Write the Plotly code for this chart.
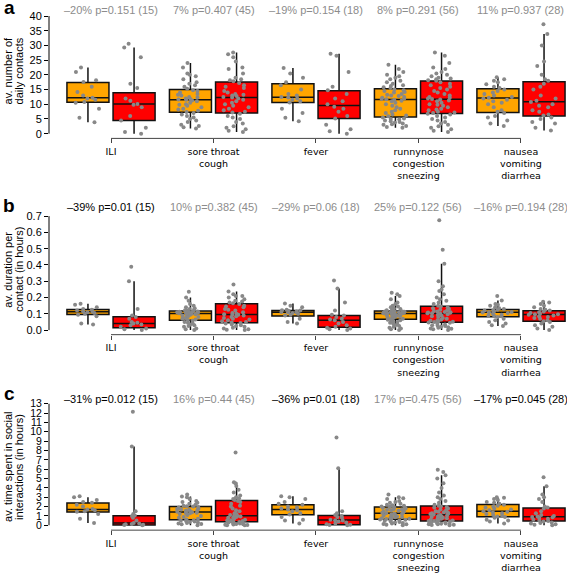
import plotly.graph_objects as go

# ---------------- categories / text ----------------
groups = ["ILI", "sore throat<br>cough", "fever",
          "runnynose<br>congestion<br>sneezing", "nausea<br>vomiting<br>diarrhea"]
group_pos = [1, 2, 3, 4, 5]

contacts_labels = ["–20% p=0.151 (15)", "7% p=0.407 (45)", "–19% p=0.154 (18)",
                   "8% p=0.291 (56)", "11% p=0.937 (28)"]
contacts_sig = [False, False, False, False, False]
duration_labels = ["–39% p=0.01 (15)", "10% p=0.382 (45)", "–29% p=0.06 (18)",
                   "25% p=0.122 (56)", "–16% p=0.194 (28)"]
duration_sig = [True, False, False, False, False]
time_labels = ["–31% p=0.012 (15)", "16% p=0.44 (45)", "–36% p=0.01 (18)",
               "17% p=0.475 (56)", "–17% p=0.045 (28)"]
time_sig = [True, False, True, False, True]

# ---------------- box statistics (h = healthy / orange, s = sick / red) ----------------
contacts_h_lo = [3.9, 1.8, 4.2, 2.0, 2.6]
contacts_h_q1 = [10.7, 7.3, 10.6, 5.7, 7.2]
contacts_h_med = [12.2, 11.5, 12.4, 11.6, 12.1]
contacts_h_q3 = [17.4, 15.0, 17.0, 15.3, 15.3]
contacts_h_hi = [22.5, 24.0, 22.3, 23.4, 19.2]
contacts_s_lo = [0.0, 0.6, 0.0, 0.6, 1.1]
contacts_s_q1 = [4.5, 7.0, 5.2, 6.9, 6.0]
contacts_s_med = [10.1, 12.3, 9.6, 11.7, 10.9]
contacts_s_q3 = [13.9, 17.6, 14.6, 17.9, 17.7]
contacts_s_hi = [29.3, 27.6, 27.2, 27.6, 33.9]

duration_h_lo = [0.035, 0.0, 0.040, 0.0, 0.025]
duration_h_q1 = [0.096, 0.061, 0.086, 0.066, 0.082]
duration_h_med = [0.113, 0.102, 0.110, 0.102, 0.109]
duration_h_q3 = [0.127, 0.117, 0.120, 0.117, 0.127]
duration_h_hi = [0.162, 0.200, 0.163, 0.209, 0.182]
duration_s_lo = [0.0, 0.0, 0.0, 0.0, 0.0]
duration_s_q1 = [0.015, 0.045, 0.018, 0.049, 0.055]
duration_s_med = [0.041, 0.096, 0.060, 0.102, 0.096]
duration_s_q3 = [0.082, 0.162, 0.090, 0.147, 0.119]
duration_s_hi = [0.300, 0.237, 0.256, 0.407, 0.174]

time_h_lo = [0.25, 0.0, 0.2, 0.0, 0.2]
time_h_q1 = [1.42, 0.60, 1.14, 0.64, 0.92]
time_h_med = [1.70, 1.42, 1.70, 1.28, 1.49]
time_h_q3 = [2.38, 2.02, 2.20, 1.95, 2.23]
time_h_hi = [3.0, 3.08, 3.1, 3.0, 2.94]
time_s_lo = [0.0, 0.0, 0.0, 0.0, 0.0]
time_s_q1 = [0.04, 0.39, 0.07, 0.46, 0.46]
time_s_med = [0.25, 1.03, 0.57, 1.14, 0.92]
time_s_q3 = [1.03, 2.66, 1.06, 2.06, 1.85]
time_s_hi = [8.43, 4.6, 6.1, 5.35, 4.18]

# ---------------- individual participants ----------------
contacts_h_pts = [
    [22.5, 21.0, 18.2, 17.6, 16.0, 14.2, 13.0, 12.2, 12.0, 11.5, 10.8, 10.5, 8.5, 5.4, 3.9],
    [24.0, 22.5, 20.5, 20.0, 19.5, 18.5, 17.5, 17.0, 16.5, 16.0, 15.3,
     14.8, 14.5, 14.0, 13.5, 13.2, 13.0, 12.5, 12.3, 12.0, 11.8, 11.6, 11.5,
     11.3, 11.0, 10.5, 10.0, 9.8, 9.5, 9.0, 8.5, 8.2, 7.8, 7.4,
     7.0, 6.5, 6.0, 5.5, 5.0, 4.5, 4.0, 3.0, 2.6, 2.2, 1.8],
    [22.3, 20.5, 19.0, 17.5, 16.5, 15.0, 13.5, 13.0, 12.5, 12.3, 12.0, 11.5, 11.0, 10.6, 8.5, 7.0, 5.4, 4.2],
    [23.4, 22.0, 21.0, 20.0, 19.5, 19.0, 18.5, 18.0, 17.5, 17.0, 16.5, 16.2, 15.8, 15.5,
     15.0, 14.8, 14.5, 14.2, 14.0, 13.5, 13.2, 13.0, 12.8, 12.5, 12.2, 12.0, 11.8, 11.7,
     11.5, 11.2, 11.0, 10.5, 10.0, 9.5, 9.0, 8.5, 8.0, 7.5, 7.0, 6.5, 6.2, 5.9,
     5.5, 5.2, 5.0, 4.8, 4.5, 4.2, 4.0, 3.8, 3.5, 3.2, 3.0, 2.6, 2.3, 2.0],
    [19.2, 18.5, 18.0, 17.5, 16.8, 16.0, 15.5, 15.0, 14.5, 14.0, 13.5, 13.0, 12.5, 12.2,
     12.0, 11.5, 11.0, 10.5, 10.0, 9.0, 8.0, 7.5, 7.0, 6.0, 5.5, 4.5, 3.5, 2.6],
]
contacts_s_pts = [
    [30.6, 29.3, 26.0, 17.0, 15.5, 12.0, 11.2, 10.1, 9.8, 9.0, 6.0, 4.5, 2.0, 0.6, 0.0],
    [27.6, 27.0, 26.0, 24.5, 22.5, 22.0, 20.5, 19.0, 18.5, 18.2, 17.8,
     17.2, 16.5, 16.0, 15.5, 14.5, 14.0, 13.5, 13.2, 13.0, 12.8, 12.5, 12.3,
     12.0, 11.5, 11.0, 10.5, 10.0, 9.5, 9.0, 8.5, 8.0, 7.5, 7.2,
     6.8, 6.0, 5.5, 5.0, 4.0, 3.5, 2.5, 2.0, 1.5, 1.0, 0.6],
    [27.2, 26.5, 21.0, 16.0, 14.8, 13.5, 12.0, 11.0, 10.0, 9.2, 8.5, 7.5, 6.0, 5.2, 3.0, 1.5, 0.8, 0.0],
    [27.6, 26.5, 24.0, 22.5, 22.0, 21.0, 20.5, 20.0, 19.5, 19.0, 18.8, 18.5, 18.2, 18.0,
     17.5, 17.0, 16.5, 16.0, 15.5, 15.0, 14.5, 14.0, 13.5, 13.0, 12.5, 12.2, 12.0, 11.8,
     11.6, 11.3, 11.0, 10.5, 10.0, 9.8, 9.5, 9.0, 8.5, 8.2, 8.0, 7.5, 7.2, 7.0,
     6.8, 6.5, 6.0, 5.5, 5.0, 4.5, 4.0, 3.5, 3.0, 2.5, 2.0, 1.5, 1.0, 0.6],
    [37.2, 33.9, 30.0, 24.5, 23.0, 20.0, 18.5, 18.0, 17.0, 16.0, 15.0, 13.0, 12.0, 11.2,
     10.8, 10.0, 9.5, 9.0, 8.0, 7.5, 6.5, 6.2, 5.5, 5.0, 4.0, 3.5, 2.0, 1.1],
]

duration_h_pts = [
    [0.162, 0.155, 0.14, 0.13, 0.125, 0.12, 0.115, 0.113, 0.11, 0.105, 0.10, 0.095, 0.085, 0.04, 0.035],
    [0.235, 0.20, 0.18, 0.16, 0.15, 0.14, 0.135, 0.13, 0.125, 0.122, 0.12,
     0.116, 0.115, 0.113, 0.112, 0.11, 0.109, 0.108, 0.106, 0.105, 0.104, 0.103, 0.102,
     0.10, 0.098, 0.095, 0.092, 0.09, 0.085, 0.08, 0.075, 0.07, 0.065, 0.062,
     0.058, 0.05, 0.045, 0.04, 0.035, 0.03, 0.025, 0.02, 0.01, 0.005, 0.0],
    [0.163, 0.15, 0.14, 0.125, 0.122, 0.12, 0.118, 0.115, 0.112, 0.11, 0.108, 0.105, 0.10, 0.095, 0.09, 0.07, 0.05, 0.04],
    [0.23, 0.22, 0.209, 0.19, 0.17, 0.16, 0.15, 0.145, 0.14, 0.135, 0.13, 0.125, 0.122, 0.119,
     0.116, 0.115, 0.114, 0.113, 0.112, 0.111, 0.11, 0.109, 0.108, 0.107, 0.106, 0.105, 0.104, 0.103,
     0.10, 0.098, 0.096, 0.094, 0.092, 0.09, 0.088, 0.085, 0.082, 0.08, 0.077, 0.074, 0.07, 0.067,
     0.064, 0.06, 0.055, 0.05, 0.045, 0.04, 0.035, 0.03, 0.025, 0.02, 0.015, 0.01, 0.005, 0.0],
    [0.21, 0.182, 0.16, 0.155, 0.15, 0.14, 0.135, 0.13, 0.125, 0.122, 0.12, 0.115, 0.112, 0.11,
     0.108, 0.105, 0.10, 0.095, 0.09, 0.088, 0.085, 0.08, 0.07, 0.06, 0.05, 0.04, 0.03, 0.025],
]
duration_s_pts = [
    [0.389, 0.30, 0.13, 0.09, 0.08, 0.07, 0.05, 0.045, 0.041, 0.035, 0.03, 0.02, 0.01, 0.005, 0.0],
    [0.28, 0.237, 0.22, 0.21, 0.21, 0.2, 0.19, 0.18, 0.175, 0.17, 0.165,
     0.16, 0.15, 0.145, 0.14, 0.13, 0.125, 0.12, 0.11, 0.105, 0.10, 0.098, 0.096,
     0.094, 0.09, 0.085, 0.08, 0.075, 0.07, 0.065, 0.06, 0.055, 0.05, 0.047,
     0.043, 0.04, 0.035, 0.03, 0.025, 0.02, 0.015, 0.01, 0.005, 0.002, 0.0],
    [0.305, 0.256, 0.17, 0.12, 0.095, 0.09, 0.08, 0.07, 0.065, 0.06, 0.05, 0.04, 0.03, 0.02, 0.015, 0.01, 0.005, 0.0],
    [0.675, 0.493, 0.407, 0.30, 0.27, 0.25, 0.24, 0.22, 0.2, 0.19, 0.18, 0.17, 0.16, 0.15,
     0.145, 0.14, 0.135, 0.13, 0.125, 0.12, 0.118, 0.115, 0.112, 0.11, 0.108, 0.106, 0.104, 0.103,
     0.10, 0.097, 0.094, 0.09, 0.085, 0.08, 0.075, 0.07, 0.065, 0.06, 0.058, 0.055, 0.052, 0.05,
     0.047, 0.045, 0.04, 0.035, 0.03, 0.028, 0.025, 0.02, 0.018, 0.015, 0.01, 0.008, 0.005, 0.0],
    [0.174, 0.17, 0.16, 0.15, 0.14, 0.13, 0.125, 0.12, 0.115, 0.11, 0.105, 0.10, 0.098, 0.097,
     0.095, 0.09, 0.085, 0.08, 0.075, 0.07, 0.06, 0.055, 0.05, 0.04, 0.03, 0.02, 0.01, 0.0],
]

time_h_pts = [
    [3.1, 3.0, 2.7, 2.5, 2.4, 2.2, 2.0, 1.75, 1.7, 1.6, 1.5, 1.45, 1.2, 0.7, 0.25],
    [3.3, 3.08, 3.0, 2.8, 2.6, 2.5, 2.4, 2.3, 2.2, 2.1, 2.05,
     2.0, 1.95, 1.9, 1.8, 1.75, 1.7, 1.65, 1.6, 1.55, 1.5, 1.45, 1.42,
     1.4, 1.35, 1.3, 1.25, 1.2, 1.1, 1.0, 0.9, 0.8, 0.7, 0.62,
     0.55, 0.5, 0.45, 0.4, 0.35, 0.3, 0.25, 0.2, 0.15, 0.1, 0.0],
    [3.1, 3.0, 2.8, 2.5, 2.3, 2.2, 2.0, 1.9, 1.8, 1.7, 1.6, 1.5, 1.3, 1.15, 0.9, 0.6, 0.5, 0.2],
    [3.3, 3.0, 2.9, 2.8, 2.6, 2.5, 2.4, 2.3, 2.2, 2.15, 2.1, 2.05, 2.0, 1.97,
     1.93, 1.9, 1.85, 1.8, 1.75, 1.7, 1.65, 1.6, 1.55, 1.5, 1.45, 1.4, 1.35, 1.3,
     1.25, 1.2, 1.15, 1.1, 1.05, 1.0, 0.95, 0.9, 0.85, 0.8, 0.75, 0.72, 0.7, 0.66,
     0.62, 0.6, 0.55, 0.5, 0.45, 0.4, 0.35, 0.3, 0.25, 0.2, 0.15, 0.1, 0.05, 0.0],
    [3.0, 2.94, 2.8, 2.7, 2.5, 2.4, 2.3, 2.2, 2.1, 2.0, 1.9, 1.8, 1.7, 1.6,
     1.5, 1.45, 1.4, 1.3, 1.2, 1.1, 1.0, 0.95, 0.9, 0.8, 0.6, 0.5, 0.4, 0.2],
]
time_s_pts = [
    [12.14, 8.43, 1.5, 1.2, 1.05, 1.0, 0.8, 0.5, 0.25, 0.2, 0.15, 0.1, 0.05, 0.02, 0.0],
    [7.79, 4.6, 4.5, 4.2, 3.8, 3.5, 3.2, 3.0, 2.9, 2.8, 2.7,
     2.6, 2.5, 2.3, 2.1, 2.0, 1.8, 1.6, 1.5, 1.3, 1.2, 1.1, 1.03,
     1.0, 0.95, 0.9, 0.85, 0.8, 0.7, 0.6, 0.55, 0.5, 0.45, 0.4,
     0.35, 0.3, 0.25, 0.2, 0.15, 0.1, 0.08, 0.05, 0.03, 0.01, 0.0],
    [9.38, 6.1, 1.5, 1.3, 1.1, 1.0, 0.9, 0.8, 0.6, 0.55, 0.5, 0.4, 0.3, 0.2, 0.1, 0.07, 0.03, 0.0],
    [5.95, 5.7, 5.35, 5.0, 4.5, 4.0, 3.5, 3.2, 3.0, 2.8, 2.6, 2.4, 2.2, 2.1,
     2.0, 1.95, 1.9, 1.8, 1.7, 1.6, 1.5, 1.45, 1.4, 1.35, 1.3, 1.25, 1.2, 1.16,
     1.1, 1.05, 1.0, 0.95, 0.9, 0.85, 0.8, 0.75, 0.7, 0.65, 0.6, 0.55, 0.5, 0.47,
     0.45, 0.4, 0.35, 0.3, 0.28, 0.25, 0.2, 0.18, 0.15, 0.12, 0.1, 0.05, 0.02, 0.0],
    [5.14, 4.18, 3.3, 3.0, 2.8, 2.5, 2.0, 1.9, 1.8, 1.5, 1.3, 1.1, 1.0, 0.95,
     0.9, 0.85, 0.8, 0.7, 0.6, 0.5, 0.47, 0.4, 0.3, 0.25, 0.2, 0.1, 0.05, 0.0],
]

contacts_ticks = [0, 5, 10, 15, 20, 25, 30, 35, 40]
duration_ticks = [0.0, 0.1, 0.2, 0.3, 0.4, 0.5, 0.6, 0.7]
time_ticks = list(range(0, 14))

# ---------------- styling ----------------
W, H = 567, 573
ORANGE = "#FFA500"
RED = "#FF0000"
PT = "#888888"
FONT = "Liberation Sans, Arial, sans-serif"
OFF = 0.225
BW = 0.41


def py(px):
    return 1 - px / H


panels = [
    dict(letter="a", title=["av. number of", "daily contacts"], ticks=contacts_ticks,
         tickfmt=[str(t) for t in contacts_ticks], rng=[-1.6, 41.6], tsize=11,
         dom=[py(137.6), py(9.4)], ann_y=7.9, letter_y=5.5, title_y=70,
         labels=contacts_labels, sig=contacts_sig,
         h=(contacts_h_lo, contacts_h_q1, contacts_h_med, contacts_h_q3, contacts_h_hi),
         s=(contacts_s_lo, contacts_s_q1, contacts_s_med, contacts_s_q3, contacts_s_hi),
         hp=contacts_h_pts, sp=contacts_s_pts),
    dict(letter="b", title=["av. duration per", "contact (in hours)"], ticks=duration_ticks,
         tickfmt=["%.1f" % t for t in duration_ticks], rng=[-0.028, 0.728], tsize=11,
         dom=[py(335.6), py(211.4)], ann_y=207.3, letter_y=205.4, title_y=270,
         labels=duration_labels, sig=duration_sig,
         h=(duration_h_lo, duration_h_q1, duration_h_med, duration_h_q3, duration_h_hi),
         s=(duration_s_lo, duration_s_q1, duration_s_med, duration_s_q3, duration_s_hi),
         hp=duration_h_pts, sp=duration_s_pts),
    dict(letter="c", title=["av. time spent in social", "interactions (in hours)"], ticks=time_ticks,
         tickfmt=[str(t) for t in time_ticks], rng=[-0.52, 13.52], tsize=10.5,
         dom=[py(532.8), py(400.4)], ann_y=400.8, letter_y=395.4, title_y=469,
         labels=time_labels, sig=time_sig,
         h=(time_h_lo, time_h_q1, time_h_med, time_h_q3, time_h_hi),
         s=(time_s_lo, time_s_q1, time_s_med, time_s_q3, time_s_hi),
         hp=time_h_pts, sp=time_s_pts),
]

fig = go.Figure()
annotations = []
shapes = []
layout = {}

for i, p in enumerate(panels):
    k = "" if i == 0 else str(i + 1)
    xa, ya = "x" + k, "y" + k
    for stats, pts, col, sgn in [(p["h"], p["hp"], ORANGE, -1), (p["s"], p["sp"], RED, 1)]:
        lo, q1, med, q3, hi = stats
        xs = [g + sgn * OFF for g in group_pos]
        fig.add_trace(go.Box(
            x=xs, q1=q1, median=med, q3=q3, lowerfence=lo, upperfence=hi,
            orientation="v", width=BW, whiskerwidth=0, boxpoints=False,
            fillcolor=col, line=dict(color="#111111", width=1.5),
            xaxis=xa, yaxis=ya, showlegend=False, hoverinfo="skip"))
        for g, vals in zip(xs, pts):
            fig.add_trace(go.Box(
                x=[g] * len(vals), y=vals, orientation="v", width=BW,
                boxpoints="all", jitter=0.75, pointpos=0, whiskerwidth=0,
                fillcolor="rgba(0,0,0,0)", line=dict(color="rgba(0,0,0,0)", width=0),
                marker=dict(color=PT, size=4, line=dict(width=0)),
                xaxis=xa, yaxis=ya, showlegend=False, hoverinfo="y"))

    layout["xaxis" + k] = dict(
        domain=[49 / W, 1.0], range=[0.395, 5.449], anchor=ya,
        tickmode="array", tickvals=group_pos, ticktext=groups,
        ticks="outside", ticklen=4, tickwidth=1, tickcolor="#444444",
        showline=False, showgrid=False, zeroline=False,
        tickfont=dict(family="DejaVu Sans", size=9.5, color="black"), fixedrange=True)
    layout["yaxis" + k] = dict(
        domain=p["dom"], range=p["rng"], anchor=xa,
        tickmode="array", tickvals=p["ticks"], ticktext=p["tickfmt"],
        ticks="outside", ticklen=4, tickwidth=1, tickcolor="black",
        showline=False, showgrid=False, zeroline=False,
        tickfont=dict(family=FONT, size=p["tsize"], color="black"), fixedrange=True)

    # R-style axis lines spanning only the tick range
    shapes.append(dict(type="line", xref=xa + " domain", x0=0, x1=0, yref=ya,
                       y0=p["ticks"][0], y1=p["ticks"][-1], line=dict(color="black", width=1)))
    shapes.append(dict(type="line", xref=xa, x0=group_pos[0], x1=group_pos[-1],
                       yref=ya + " domain", y0=0, y1=0, line=dict(color="#444444", width=1)))

    for g, txt, sg in zip(group_pos, p["labels"], p["sig"]):
        annotations.append(dict(x=g, xref=xa, y=py(p["ann_y"]), yref="paper", text=txt,
                                showarrow=False, xanchor="center", yanchor="middle",
                                font=dict(family=FONT, size=11, color="black" if sg else "#8c8c8c")))
    annotations.append(dict(x=9 / W, xref="paper", y=py(p["letter_y"]), yref="paper",
                            text="<b>%s</b>" % p["letter"], showarrow=False,
                            xanchor="center", yanchor="middle",
                            font=dict(family=FONT, size=19, color="black")))
    for j, line in enumerate(p["title"]):
        annotations.append(dict(x=(8 + 11 * j) / W, xref="paper", y=py(p["title_y"]), yref="paper",
                                text=line, textangle=-90, showarrow=False,
                                xanchor="center", yanchor="middle",
                                font=dict(family=FONT, size=11, color="black")))

fig.update_layout(
    width=W, height=H, margin=dict(l=0, r=0, t=0, b=0),
    paper_bgcolor="white", plot_bgcolor="white",
    boxmode="overlay", annotations=annotations, shapes=shapes, **layout)

fig.write_html("out.html", config={"displayModeBar": False},
               post_script="document.body.style.margin='0';document.body.style.padding='0';"
                           "document.body.style.overflow='hidden';")
